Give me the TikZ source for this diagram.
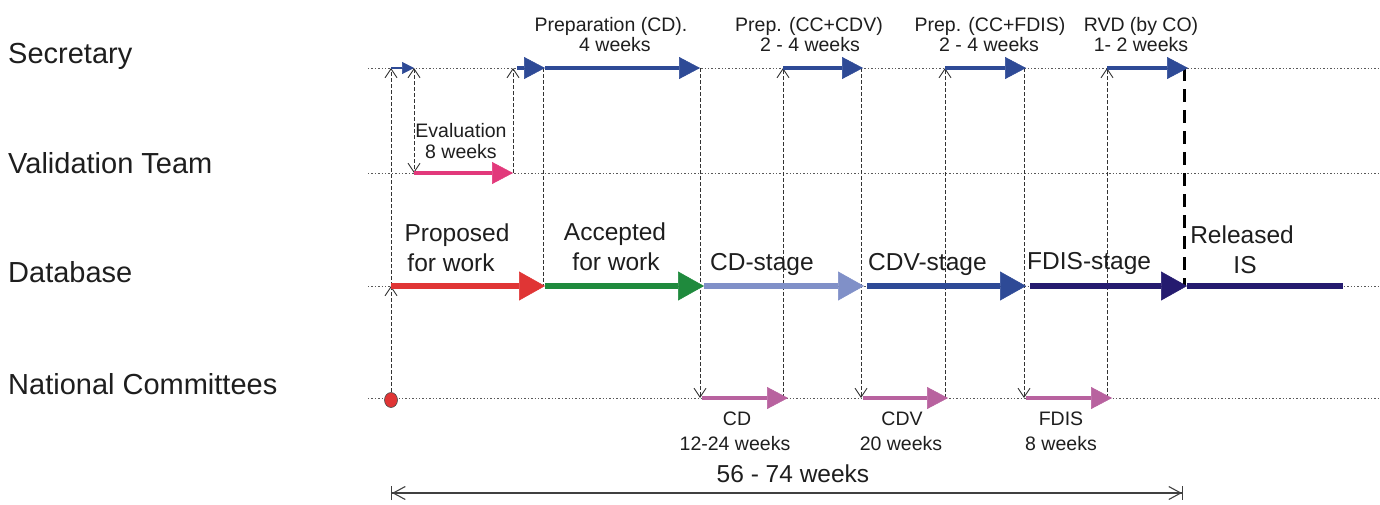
\documentclass[tikz,border=0pt]{standalone}
\usepackage{fontspec}
\setmainfont{Liberation Sans}
\usetikzlibrary{arrows.meta,shapes.geometric}
\definecolor{txt}{HTML}{1E1E1E}
\definecolor{secblue}{HTML}{2E4A96}
\definecolor{valpink}{HTML}{E2397B}
\definecolor{propred}{HTML}{E03535}
\definecolor{accgreen}{HTML}{1F8A3D}
\definecolor{cdblue}{HTML}{8090C8}
\definecolor{cdvblue}{HTML}{2E4A96}
\definecolor{fdisnavy}{HTML}{251B6F}
\definecolor{ncpink}{HTML}{B8629F}
\begin{document}
\begin{tikzpicture}[x=1pt,y=-1pt,
  lbl/.style={anchor=base west,font=\fontsize{29}{34}\selectfont,text=txt,inner sep=0pt},
  stg/.style={anchor=base,font=\fontsize{24.5}{29}\selectfont,text=txt,inner sep=0pt},
  stgw/.style={anchor=base west,font=\fontsize{24.5}{29}\selectfont,text=txt,inner sep=0pt},
  sml/.style={anchor=base,font=\fontsize{19.5}{23}\selectfont,text=txt,inner sep=0pt},
  lane/.style={draw=black!65,line width=1pt,dash pattern=on 1.4pt off 2pt},
  vdash/.style={draw=black!80,line width=0.9pt,dash pattern=on 4pt off 2pt},
  vtip/.style={-{Straight Barb[length=9pt,width=12pt,line width=0.9pt]}},
  vtips/.style={{Straight Barb[length=9pt,width=12pt,line width=0.9pt]}-{Straight Barb[length=9pt,width=12pt,line width=0.9pt]}},
  bigarr/.style={line width=6.5pt,-{Triangle[length=26pt,width=29pt,line width=0.5pt]}},
  medarr/.style={line width=4pt,-{Triangle[length=21pt,width=22pt,line width=0.5pt]}},
  tinyarr/.style={line width=2pt,-{Triangle[length=12pt,width=12pt,line width=0.5pt]}},
  relline/.style={line width=6pt},
  dimline/.style={draw=black!75,line width=1.1pt,
    {Bar[width=14pt,line width=1.1pt]Straight Barb[length=12pt,width=13pt,line width=1.1pt]}-{Straight Barb[length=12pt,width=13pt,line width=1.1pt]Bar[width=14pt,line width=1.1pt]}},
  reldash/.style={draw=black,line width=3pt,dash pattern=on 13pt off 8pt},
  dot/.style={ellipse,minimum width=13pt,minimum height=15pt,inner sep=0pt,fill=propred,draw=black!70,line width=0.6pt}
]
\useasboundingbox (0,0) rectangle (1380,504);

% lane coordinates
\coordinate (sL) at (368,68);  \coordinate (sR) at (1380,68);
\coordinate (vL) at (368,173); \coordinate (vR) at (1380,173);
\coordinate (dL) at (368,286); \coordinate (dR) at (1380,286);
\coordinate (nL) at (368,398); \coordinate (nR) at (1380,398);

% secretary points
\coordinate (s391) at (391,68);
\coordinate (s402) at (391,68);
\coordinate (s414) at (414,68);
\coordinate (s513) at (513,68);
\coordinate (s517) at (517,68);
\coordinate (s543) at (543,68);
\coordinate (s545) at (545,68);
\coordinate (s700) at (700,68);
\coordinate (s783) at (783,68);
\coordinate (s861) at (861,68);
\coordinate (s863) at (863,68);
\coordinate (s945) at (945,68);
\coordinate (s1024) at (1024,68);
\coordinate (s1026) at (1026,68);
\coordinate (s1107) at (1107,68);
\coordinate (s1184) at (1184,68);
\coordinate (s1188) at (1188,68);
% validation points
\coordinate (v414) at (414,173);
\coordinate (v513) at (513,173);
% database points
\coordinate (d391) at (391,286);
\coordinate (d543) at (543,286);
\coordinate (d545) at (545,286);
\coordinate (d704) at (704,286);
\coordinate (d864) at (864,286);
\coordinate (d867) at (867,286);
\coordinate (d1026) at (1026,286);
\coordinate (d1030) at (1030,286);
\coordinate (d1184) at (1184,286);
\coordinate (d1187) at (1187,286);
\coordinate (d1343) at (1343,286);
% national committee points
\coordinate (n700) at (700,398);
\coordinate (n702) at (702,398);
\coordinate (n783) at (783,398);
\coordinate (n788) at (788,398);
\coordinate (n861) at (861,398);
\coordinate (n863) at (863,398);
\coordinate (n945) at (945,398);
\coordinate (n948) at (948,398);
\coordinate (n1024) at (1024,398);
\coordinate (n1026) at (1026,398);
\coordinate (n1107) at (1107,398);
\coordinate (n1112) at (1112,398);
% dimension line ends
\coordinate (b0) at (391,493);
\coordinate (b1) at (1183,493);

% lanes
\draw[lane] (sL) -- (sR);
\draw[lane] (vL) -- (vR);
\draw[lane] (dL) -- (dR);
\draw[lane] (nL) -- (nR);

% start dot
\node[dot] (c0) at (391,400) {};

% vertical dashed connectors
\draw[vdash,vtip] (c0) -- (d391);
\draw[vdash,vtip] (d391) -- (s391);
\draw[vdash,vtips] (s414) -- (v414);
\draw[vdash,vtip] (v513) -- (s513);
\draw[vdash] (s543) -- (d543);
\draw[vdash,vtip] (s700) -- (n700);
\draw[vdash,vtip] (n783) -- (s783);
\draw[vdash,vtip] (s861) -- (n861);
\draw[vdash,vtip] (n945) -- (s945);
\draw[vdash,vtip] (s1024) -- (n1024);
\draw[vdash,vtip] (n1107) -- (s1107);
\draw[reldash] (s1184) -- (d1184);

% secretary arrows
\draw[tinyarr,secblue] (s402) -- (s414);
\draw[medarr,secblue] (s517) -- (s545);
\draw[medarr,secblue] (s545) -- (s700);
\draw[medarr,secblue] (s783) -- (s863);
\draw[medarr,secblue] (s945) -- (s1026);
\draw[medarr,secblue] (s1107) -- (s1188);

% validation arrow
\draw[medarr,valpink] (v414) -- (v513);

% database arrows
\draw[bigarr,propred] (d391) -- (d545);
\draw[bigarr,accgreen] (d545) -- (d704);
\draw[bigarr,cdblue] (d704) -- (d864);
\draw[bigarr,cdvblue] (d867) -- (d1026);
\draw[bigarr,fdisnavy] (d1030) -- (d1187);
\draw[relline,fdisnavy] (d1187) -- (d1343);

% national committee arrows
\draw[medarr,ncpink] (n702) -- (n788);
\draw[medarr,ncpink] (n863) -- (n948);
\draw[medarr,ncpink] (n1026) -- (n1112);

% dimension line
\draw[dimline] (b0) -- (b1);

% row labels
\node[lbl] (tSec) at (8,63) {Secretary};
\node[lbl] (tVal) at (8,173.5) {Validation Team};
\node[lbl] (tDb) at (8,282.5) {Database};
\node[lbl] (tNc) at (8,394.5) {National Committees};

% secretary task labels
\node[sml] (tPrepA) at (611,31) {Preparation (CD).};
\node[sml] (tPrepB) at (615,51) {4 weeks};
\node[sml] (tCdvA) at (809,31) {Prep. (CC+CDV)};
\node[sml] (tCdvB) at (810,51) {2 - 4 weeks};
\node[sml] (tFdA) at (990,31) {Prep. (CC+FDIS)};
\node[sml] (tFdB) at (989,51) {2 - 4 weeks};
\node[sml] (tRvA) at (1141,31) {RVD (by CO)};
\node[sml] (tRvB) at (1141,51) {1- 2 weeks};

% validation labels
\node[sml] (tEvA) at (461,137) {Evaluation};
\node[sml] (tEvB) at (461,158) {8 weeks};

% stage labels
\node[stg] (tPrA) at (457,241) {Proposed};
\node[stg] (tPrB) at (451,271) {for work};
\node[stg] (tAcA) at (615,240) {Accepted};
\node[stg] (tAcB) at (616,270) {for work};
\node[stgw] (tCd) at (710,270) {CD-stage};
\node[stgw] (tCdv) at (868,270) {CDV-stage};
\node[stgw] (tFdis) at (1027,269) {FDIS-stage};
\node[stg] (tRelA) at (1242,243) {Released};
\node[stg] (tRelB) at (1245,273) {IS};

% national committee labels
\node[sml] (tNcA) at (737,425) {CD};
\node[sml] (tNcB) at (735,450) {12-24 weeks};
\node[sml] (tNvA) at (902,425) {CDV};
\node[sml] (tNvB) at (901,450) {20 weeks};
\node[sml] (tNfA) at (1061,425) {FDIS};
\node[sml] (tNfB) at (1061,450) {8 weeks};

% total duration
\node[stg] (tTot) at (793,482) {56 - 74 weeks};
\end{tikzpicture}
\end{document}
